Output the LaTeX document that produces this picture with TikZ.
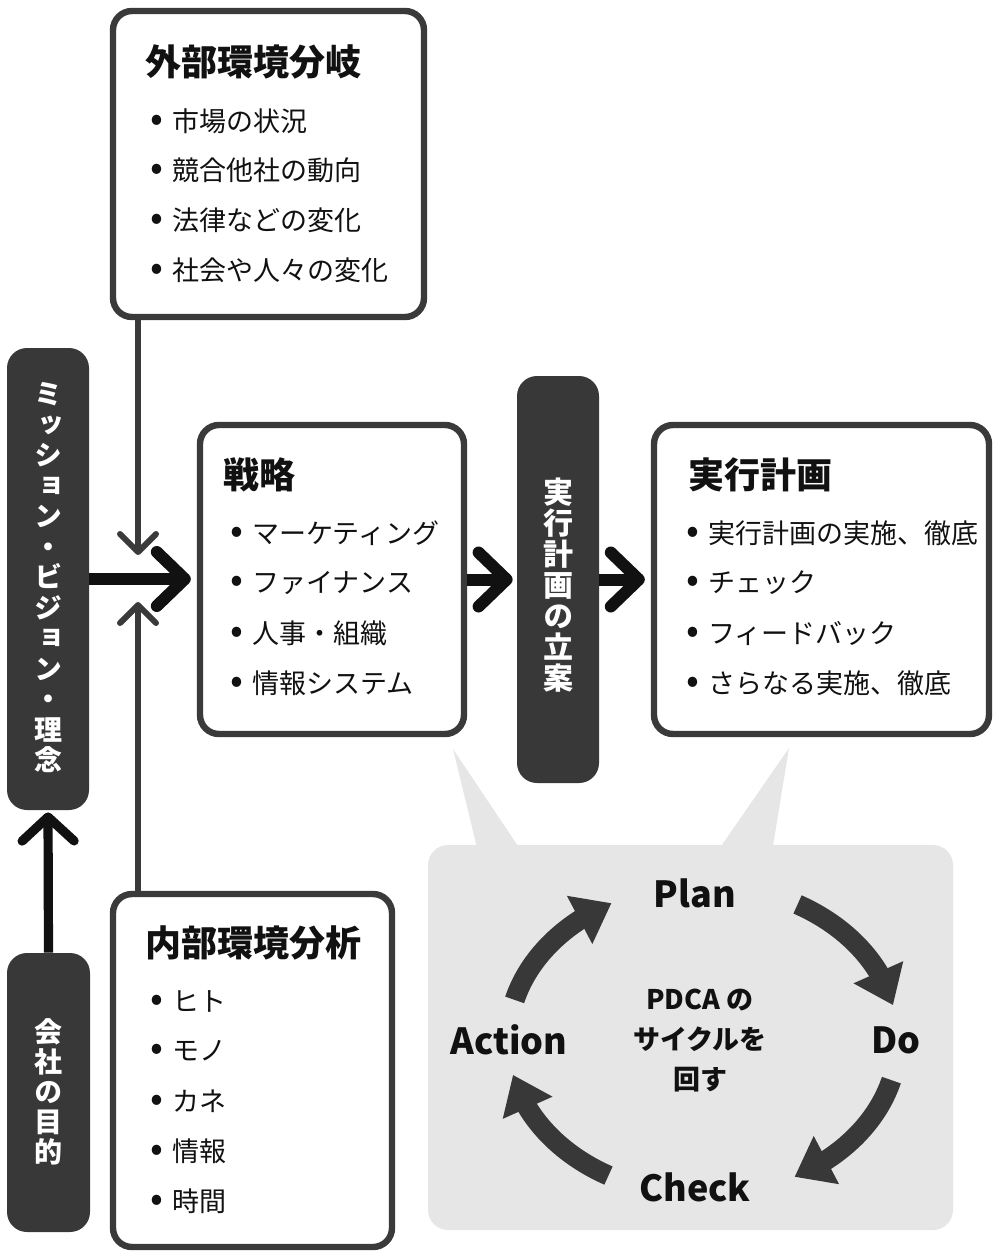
\documentclass[tikz,border=0pt]{standalone}
\usepackage{fontspec}
\setmainfont{Noto Sans CJK JP}
\newfontfamily\vfont{Noto Sans CJK JP}[RawFeature=+vert]
\usetikzlibrary{arrows.meta,bending,fit}
\definecolor{dk}{HTML}{3A3A3A}
\definecolor{bar}{HTML}{383838}
\definecolor{bub}{HTML}{E6E6E6}
\definecolor{ink}{HTML}{111111}
\newcommand\itembullet{\llap{{\fontsize{19pt}{19pt}\selectfont •}\hspace{4.5pt}}}
\tikzset{
  box/.style={draw=dk, line width=3.2pt, rounded corners=9.5pt, fill=white, inner sep=0pt},
  barbox/.style={fill=bar, rounded corners=10pt, inner sep=0pt},
  bubblebox/.style={fill=bub, rounded corners=10pt, inner sep=0pt},
  title/.style={anchor=west, inner sep=0pt, text=ink, font=\fontsize{18pt}{20pt}\selectfont\bfseries},
  item/.style={anchor=west, inner sep=0pt, text=ink, font=\fontsize{13.5pt}{16pt}\selectfont},
  vtext/.style={align=center, inner sep=0pt, text=white},
  pdcalabel/.style={inner sep=0pt, text=ink, font=\fontsize{18pt}{20pt}\selectfont\bfseries},
  bigarrow/.style={draw=ink, line width=6pt, -{Straight Barb[length=14pt,width=27pt,round]}},
  varrow/.style={draw=ink, line width=4.6pt, -{Straight Barb[length=12pt,width=26pt,round]}},
  thinarrow/.style={draw=dk, line width=3pt, -{Straight Barb[length=9pt,width=18pt,round]}},
  cyclearrow/.style={draw=bar, line width=10pt, -{Triangle[length=18pt,width=26pt]}}
}
% ellipse of the PDCA cycle: centre (703,1040), radii 195 x 155 (picture units)
\newcommand\cyclearc[2]{%
  \draw[cyclearrow] ({703+195*cos(#1)},{1040-155*sin(#1)})
    arc[start angle=#1, end angle=#2, x radius=97.5pt, y radius=77.5pt];}
\begin{document}
\begin{tikzpicture}[x=0.5pt,y=-0.5pt]
\useasboundingbox (0,0) rectangle (1000,1258);

% speech bubble
\node[bubblebox, fit={(428,845) (953,1230)}] (bubble) {};
\fill[bub] (453,749) -- (478,852) -- (522,852) -- cycle;
\fill[bub] (789,748) -- (717,852) -- (772,852) -- cycle;

% boxes
\node[box, fit={(113,11) (424,317)}] (ext) {};
\node[box, fit={(200,425) (464,734)}] (strat) {};
\node[box, fit={(654,425) (989,734)}] (plan) {};
\node[box, fit={(113,894) (392,1247)}] (int) {};

% dark bars
\node[barbox, fit={(7,348) (89,810)}] (mission) {};
\node[barbox, fit={(7,953) (90,1232)}] (purpose) {};
\node[barbox, fit={(517,376) (599,783)}] (rikuan) {};

% vertical texts
\node[vtext, font=\vfont\fontsize{14pt}{15.25pt}\selectfont\bfseries] (mtext) at (48,578)
  {ミ\\ッ\\シ\\ョ\\ン\\・\\ビ\\ジ\\ョ\\ン\\・\\理\\念};
\node[vtext, font=\vfont\fontsize{14pt}{15pt}\selectfont\bfseries] (ptext) at (48,1092)
  {会\\社\\の\\目\\的};
\node[vtext, font=\vfont\fontsize{15pt}{15.5pt}\selectfont\bfseries] (rtext) at (558,585)
  {実\\行\\計\\画\\の\\立\\案};

% titles
\node[title] (exttitle) at (145,62) {外部環境分岐};
\node[title] (strattitle) at (223,475) {戦略};
\node[title] (plantitle) at (688,475) {実行計画};
\node[title] (inttitle) at (145,943) {内部環境分析};

% items
\foreach \t [count=\i] in {市場の状況,競合他社の動向,法律などの変化,社会や人々の変化}
  \node[item] (ext\i) at (172,{121+49.7*(\i-1)}) {\itembullet\t};
\foreach \t [count=\i] in {マーケティング,ファイナンス,人事・組織,情報システム}
  \node[item] (strat\i) at (252,{533+50*(\i-1)}) {\itembullet\t};
\foreach \t [count=\i] in {実行計画の実施、徹底,チェック,フィードバック,さらなる実施、徹底}
  \node[item] (plan\i) at (708,{533+50*(\i-1)}) {\itembullet\t};
\foreach \t [count=\i] in {ヒト,モノ,カネ,情報,時間}
  \node[item] (int\i) at (172,{1001+50*(\i-1)}) {\itembullet\t};

% connectors
\coordinate (exttip) at (138,555);
\coordinate (inttip) at (138,602);
\draw[thinarrow] (ext.south -| exttip) -- (exttip);
\draw[thinarrow] (int.north -| inttip) -- (inttip);
\draw[bigarrow, shorten >=3pt] (mission.east) -- (strat.west |- mission.east);
\draw[bigarrow, shorten >=2pt] (strat.east |- rikuan.west) -- (rikuan.west);
\draw[bigarrow, shorten >=3pt] (rikuan.east) -- (plan.west |- rikuan.east);
\draw[varrow, shorten >=1pt] (purpose.north) -- (mission.south);

% PDCA
\node[pdcalabel] (plabel) at (695,893) {Plan};
\node[pdcalabel] (dlabel) at (896,1040) {Do};
\node[pdcalabel] (clabel) at (695,1187) {Check};
\node[pdcalabel] (alabel) at (509,1040) {Action};
\node[align=center, inner sep=0pt, text=ink, font=\fontsize{13.5pt}{20pt}\selectfont\bfseries] (cyc) at (700,1041)
  {PDCA の\\サイクルを\\回す};
\cyclearc{61}{13}
\cyclearc{-15}{-62}
\cyclearc{241}{193}
\cyclearc{165}{118}
\end{tikzpicture}
\end{document}
